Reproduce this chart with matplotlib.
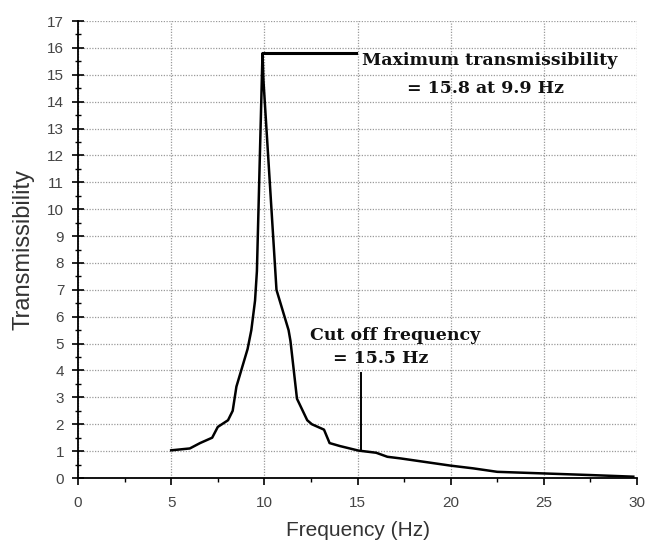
import matplotlib
matplotlib.use("Agg")
import matplotlib.pyplot as plt
from matplotlib.ticker import MultipleLocator

freq = [5.0, 6.0, 6.55, 7.2, 7.5, 8.05, 8.3, 8.5, 8.8, 9.1, 9.3, 9.5, 9.6, 9.9,
        9.95, 10.65, 11.3, 11.4, 11.75, 12.3, 12.55, 13.2, 13.5, 14.05, 15.05,
        16.0, 16.6, 17.3, 18.5, 20.0, 21.2, 22.5, 25.0, 27.5, 29.8]
trans = [1.03, 1.1, 1.3, 1.5, 1.9, 2.15, 2.5, 3.4, 4.1, 4.8, 5.5, 6.6, 7.7, 15.8,
         14.8, 7.0, 5.5, 5.1, 2.95, 2.15, 2.0, 1.8, 1.3, 1.19, 1.02,
         0.94, 0.79, 0.73, 0.61, 0.46, 0.36, 0.23, 0.17, 0.11, 0.05]

peak_f, peak_t = 9.9, 15.8
cutoff_f, cutoff_t = 15.2, 1.0
x_ticks = [0, 5, 10, 15, 20, 25, 30]
y_ticks = list(range(0, 18))

plt.rcParams['font.family'] = ['Liberation Sans', 'DejaVu Sans']

fig = plt.figure(figsize=(6.47, 5.49), dpi=100)
ax = fig.add_axes([0.1206, 0.1293, 0.864, 0.8324])

ax.plot(freq, trans, color='black', lw=1.8, zorder=3)

# annotation lines
ax.plot([peak_f, 14.9], [peak_t, peak_t], color='black', lw=2.2, zorder=3)
ax.plot([cutoff_f, cutoff_f], [cutoff_t, 3.9], color='black', lw=1.4, zorder=3)

serif = dict(family='DejaVu Serif', fontweight='bold', fontsize=12.5, color='#111111')
ax.text(22.1, 15.55, 'Maximum transmissibility', ha='center', va='center', **serif)
ax.text(21.85, 14.5, '= 15.8 at 9.9 Hz', ha='center', va='center', **serif)
ax.text(17.0, 5.32, 'Cut off frequency', ha='center', va='center', **serif)
ax.text(16.26, 4.46, '= 15.5 Hz', ha='center', va='center', **serif)

ax.set_xlim(0, 30)
ax.set_ylim(0, 17)
ax.set_xticks(x_ticks)
ax.set_yticks(y_ticks)
ax.xaxis.set_minor_locator(MultipleLocator(2.5))
ax.yaxis.set_minor_locator(MultipleLocator(0.5))

ax.grid(True, which='major', color='#9a9a9a', lw=0.9, linestyle=(0, (1, 1.2)))
ax.set_axisbelow(True)

for s in ['top', 'right']:
    ax.spines[s].set_visible(False)
for s in ['left', 'bottom']:
    ax.spines[s].set_linewidth(1.3)

ax.tick_params(axis='y', which='major', direction='inout', length=8, width=1.2,
               labelsize=11, labelcolor='#444444', pad=6)
ax.tick_params(axis='y', which='minor', direction='inout', length=4, width=1)
ax.tick_params(axis='x', which='major', direction='out', length=5, width=1.2,
               labelsize=11, labelcolor='#444444', pad=8)
ax.tick_params(axis='x', which='minor', direction='out', length=3, width=1)

ax.set_xlabel('Frequency (Hz)', fontsize=15, color='#333333', labelpad=8)
ax.set_ylabel('Transmissibility', fontsize=17, color='#333333', labelpad=9)

fig.savefig('out.png', dpi=100)
